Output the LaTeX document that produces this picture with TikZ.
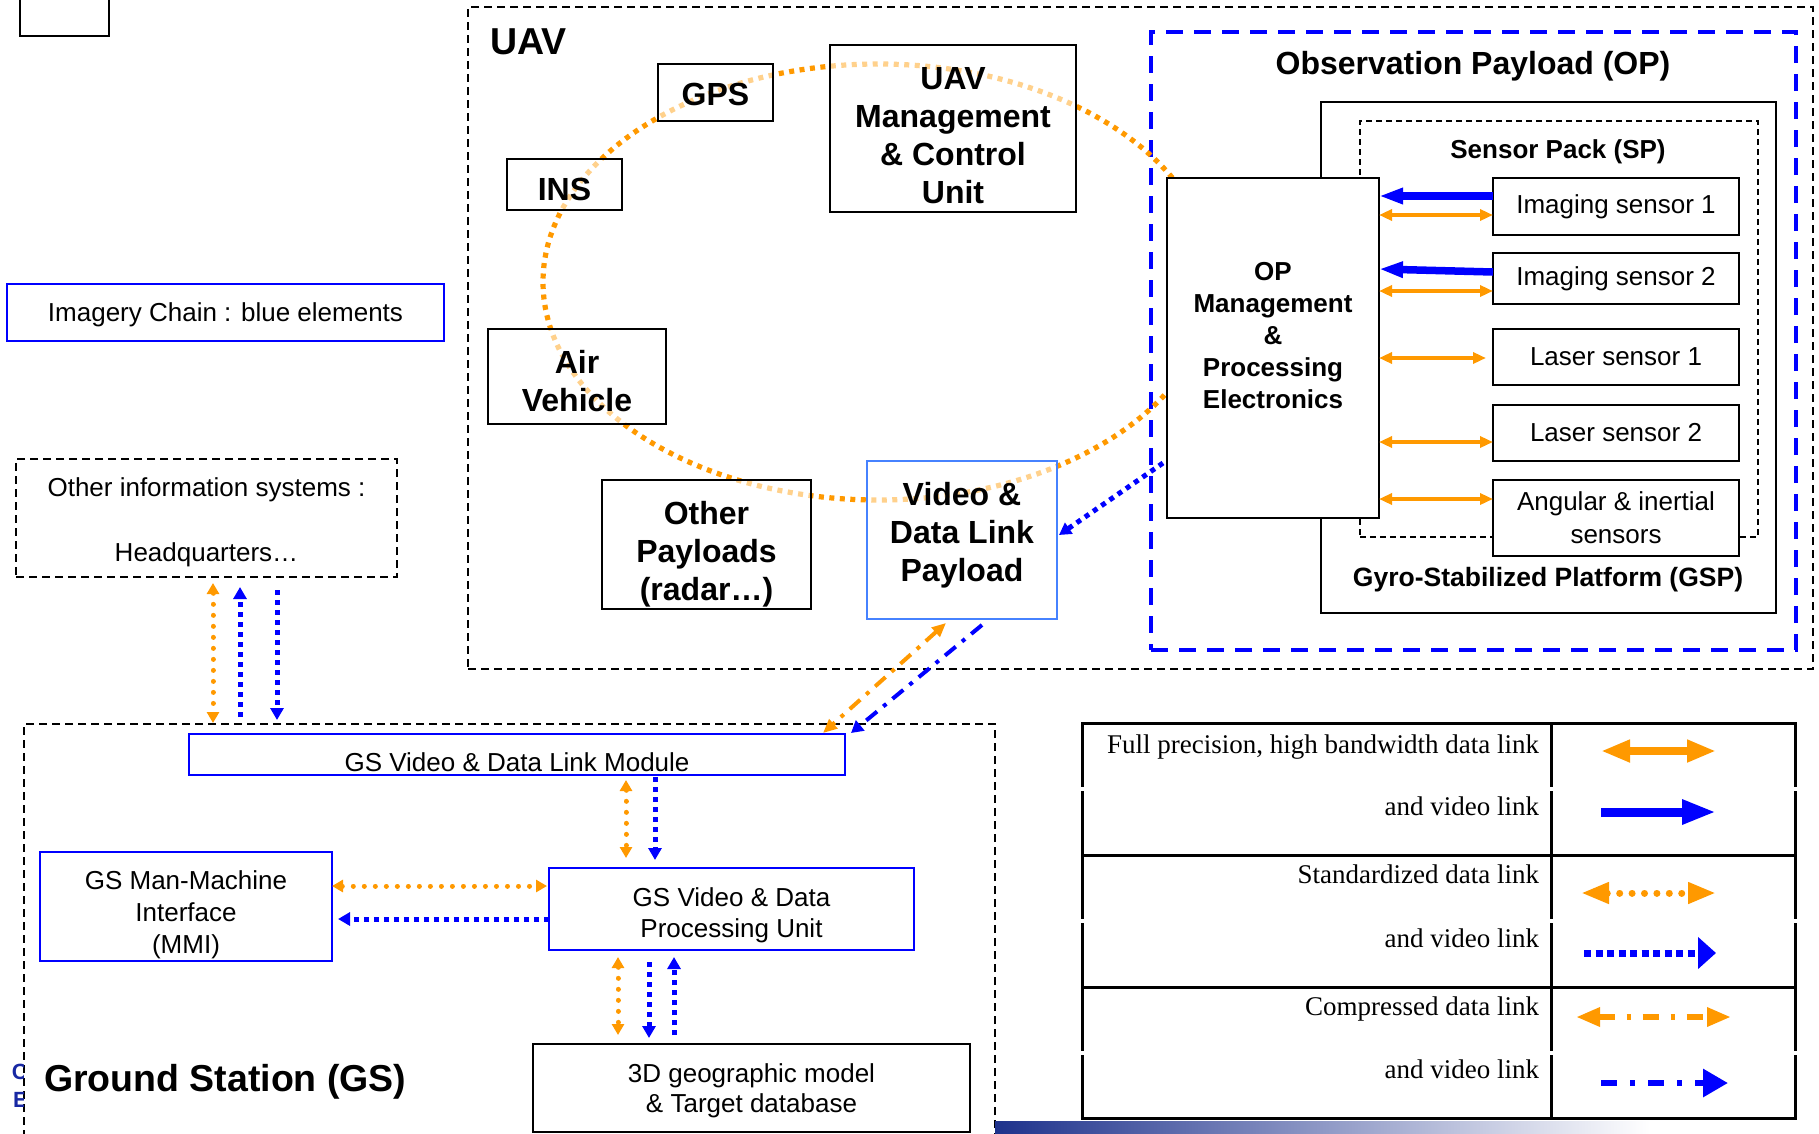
\documentclass[tikz,border=0pt]{standalone}
\usepackage{fontspec}
\setmainfont{Liberation Serif}
\setsansfont{Liberation Sans}
\usetikzlibrary{arrows.meta,calc}
\definecolor{orng}{RGB}{255,153,0}
\definecolor{vblue}{RGB}{0,0,255}
\definecolor{lblue}{RGB}{70,130,255}
\definecolor{navyc}{RGB}{30,50,140}
\begin{document}
\begin{tikzpicture}[x=1pt,y=-1pt,
  every node/.style={inner sep=0pt, outer sep=0pt, align=center},
  reg/.style={font=\sffamily\fontsize{26}{32}\selectfont},
  bld/.style={font=\sffamily\bfseries\fontsize{32}{38}\selectfont},
  bldsm/.style={font=\sffamily\bfseries\fontsize{26}{32}\selectfont},
  ttl/.style={font=\sffamily\bfseries\fontsize{37.5}{43}\selectfont},
  leg/.style={font=\rmfamily\fontsize{27}{32}\selectfont},
  sbox/.style={draw=black, line width=2.5pt, fill=white, fill opacity=0.55, text opacity=1},
  obox/.style={draw=black, line width=2.5pt, fill=white},
  bbox/.style={draw=vblue, line width=2.5pt, fill=white},
  dbox/.style={draw=black, line width=2pt, dash pattern=on 8pt off 5pt},
  ell/.style={orng, line width=5.2pt, dash pattern=on 5pt off 5.5pt},
  ofull/.style={orng, line width=4.5pt, arrows={Triangle[length=13pt,width=11pt]-Triangle[length=13pt,width=11pt]}},
  bfull/.style={vblue, line width=7.5pt, arrows={-Triangle[length=24pt,width=15pt]}},
  odot/.style={orng, line width=5pt, line cap=round, dash pattern=on 0.01pt off 11pt, arrows={Triangle[length=11pt,width=12pt]-Triangle[length=11pt,width=12pt]}},
  bdot/.style={vblue, line width=5pt, dash pattern=on 5pt off 5pt, arrows={-Triangle[length=12pt,width=13pt]}},
  odd/.style={orng, line width=4pt, dash pattern=on 14pt off 8pt on 4pt off 8pt, arrows={Triangle[length=14pt,width=12pt]-Triangle[length=14pt,width=12pt]}},
  bdd/.style={vblue, line width=4pt, dash pattern=on 14pt off 8pt on 4pt off 8pt, arrows={-Triangle[length=12pt,width=13pt]}},
  lgrid/.style={black, line width=3pt}
]
\useasboundingbox (0,0) rectangle (1819,1133);
\clip (0,0) rectangle (1819,1133);

% containers
\node[dbox, minimum width=1345pt, minimum height=662pt] (uav) at (1140.5,338) {};
\node[draw=vblue, line width=3.5pt, dash pattern=on 17pt off 11pt, minimum width=645pt, minimum height=618pt] (opc) at (1473.5,341) {};
\node[draw=black, line width=2.5pt, minimum width=455pt, minimum height=511pt] (gsp) at (1548.5,357.5) {};
\node[draw=black, line width=1.6pt, dash pattern=on 6pt off 4pt, minimum width=398pt, minimum height=416pt] (sp) at (1559,329) {};
\node[dbox, minimum width=971pt, minimum height=421pt] (gs) at (509.5,934.5) {};
\node[dbox, minimum width=381pt, minimum height=118pt] (hq) at (206.5,518) {};
\node[font=\sffamily\fontsize{26}{65}\selectfont] (hqt) at (206.5,522) {Other information systems :\\Headquarters…};

% orange ring
\draw[ell] (878,282) ellipse [x radius=335, y radius=218];

% UAV boxes
\node[obox, minimum width=89pt, minimum height=41pt] (corner) at (64.5,15.5) {};
\node[bbox, minimum width=437pt, minimum height=57pt] (imc) at (225.5,312.5) {};
\node[reg] (imct) at (225.5,315) {Imagery Chain : blue elements};
\node[sbox, minimum width=115pt, minimum height=57pt] (gps) at (715.5,92.5) {};
\node[bld] (gpst) at (715.5,94) {GPS};
\node[sbox, minimum width=115pt, minimum height=51pt] (ins) at (564.5,184.5) {};
\node[bld] (inst) at (564.5,189) {INS};
\node[sbox, minimum width=246pt, minimum height=167pt] (mcu) at (953,128.5) {};
\node[bld] (mcut) at (953,135.5) {UAV\\Management\\\& Control\\Unit};
\node[sbox, minimum width=178pt, minimum height=95pt] (av) at (577,376.5) {};
\node[bld] (avt) at (577,381) {Air\\Vehicle};
\node[sbox, minimum width=209pt, minimum height=129pt] (oth) at (706.5,544.5) {};
\node[bld] (otht) at (706.5,554) {Other\\Payloads\\(radar…)};
\node[sbox, draw=lblue, line width=2pt, minimum width=190pt, minimum height=158pt] (vdl) at (962,540) {};
\node[bld] (vdlt) at (962,535.5) {Video \&\\Data Link\\Payload};

\node[ttl, anchor=west] (uavl) at (490,41.5) {UAV};
\node[bld] (opt) at (1473,66) {Observation Payload (OP)};
\node[bldsm] (spl) at (1558,152) {Sensor Pack (SP)};
\node[font=\sffamily\bfseries\fontsize{26.5}{32}\selectfont] (gspl) at (1548,580) {Gyro-Stabilized Platform (GSP)};

% OP electronics and sensors
\node[obox, minimum width=212pt, minimum height=340pt] (opm) at (1273,348) {};
\node[bldsm] (opmt) at (1273,336) {OP\\Management\\\&\\Processing\\Electronics};
\node[obox, minimum width=246pt, minimum height=57pt, reg] (is1) at (1616,206.5) {Imaging sensor 1};
\node[obox, minimum width=246pt, minimum height=51pt, reg] (is2) at (1616,278.5) {Imaging sensor 2};
\node[obox, minimum width=246pt, minimum height=56pt, reg] (ls1) at (1616,357) {Laser sensor 1};
\node[obox, minimum width=246pt, minimum height=56pt, reg] (ls2) at (1616,433) {Laser sensor 2};
\node[obox, minimum width=246pt, minimum height=76pt, font=\sffamily\fontsize{26}{33}\selectfont] (ang) at (1616,518) {Angular \& inertial\\sensors};

\draw[bfull] (is1.west |- 0,196) -- (opm.east |- 0,196);
\draw[bfull] (is2.west |- 0,272) -- (opm.east |- 0,269);
\draw[ofull] (opm.east |- 0,215) -- (is1.west |- 0,215);
\draw[ofull] (opm.east |- 0,291) -- (is2.west |- 0,291);
\draw[ofull, shorten >=7pt] (opm.east |- 0,358) -- (ls1.west |- 0,358);
\draw[ofull] (opm.east |- 0,442) -- (ls2.west |- 0,442);
\draw[ofull] (opm.east |- 0,499) -- (ang.west |- 0,499);

\draw[bdot] ($(opm.west)+(-4,115)$) -- ($(vdl.east)+(2,-5)$);

% Ground station
\node[bbox, minimum width=656pt, minimum height=41pt] (gsm) at (517,754.5) {};
\node[reg] (gsmt) at (517,762) {GS Video \& Data Link Module};
\node[bbox, minimum width=365pt, minimum height=82pt] (proc) at (731.5,909) {};
\node[font=\sffamily\fontsize{26}{31}\selectfont] (proct) at (731.5,915) {GS Video \& Data\\Processing Unit};
\node[bbox, minimum width=292pt, minimum height=109pt] (mmi) at (186,906.5) {};
\node[reg] (mmit) at (186,915) {GS Man-Machine\\Interface\\(MMI)};
\node[obox, minimum width=437pt, minimum height=88pt] (db) at (751.5,1088) {};
\node[font=\sffamily\fontsize{26}{30}\selectfont] (dbt) at (751.5,1091) {3D geographic model\\\& Target database};
\node[ttl, anchor=west] (gsl) at (44,1082) {Ground Station (GS)};

\draw[odd] ($(vdl.south)+(-16,4)$) -- ($(gsm.north east)+(-22,-1)$);
\draw[bdd] ($(vdl.south)+(20,6)$) -- ($(gsm.north east)+(6,-1)$);

\draw[odot, shorten <=6pt, shorten >=1pt] (hq.south -| 213,0) -- (gs.north -| 213,0);
\draw[bdot, shorten <=7pt, shorten >=10pt] (gs.north -| 240,0) -- (hq.south -| 240,0);
\draw[bdot, shorten <=13pt, shorten >=4pt] (hq.south -| 277,0) -- (gs.north -| 277,0);

\draw[odot, shorten <=5pt, shorten >=10pt] (gsm.south -| 626,0) -- (proc.north -| 626,0);
\draw[bdot, shorten <=2pt, shorten >=8pt] (gsm.south -| 655,0) -- (proc.north -| 655,0);

\draw[odot, shorten >=2pt] (mmi.east |- 0,886) -- (proc.west |- 0,886);
\draw[bdot, shorten >=6pt] (proc.west |- 0,919) -- (mmi.east |- 0,919);

\draw[odot, shorten <=7pt, shorten >=9pt] (proc.south -| 618,0) -- (db.north -| 618,0);
\draw[bdot, shorten <=12pt, shorten >=6pt] (proc.south -| 649,0) -- (db.north -| 649,0);
\draw[bdot, shorten <=9pt, shorten >=7pt] (db.north -| 674,0) -- (proc.south -| 674,0);

% legend
\foreach \yy in {723,855,987,1118} \draw[lgrid, line cap=rect] (1082,\yy) -- (1795,\yy);
\foreach \xx in {1082,1551,1795} {
  \foreach \ya/\yb in {723/787,791/855,855/919,923/987,987/1051,1055/1118}
    \draw[lgrid] (\xx,\ya) -- (\xx,\yb);
}
\node[leg, anchor=base east] (lt1) at (1539,753) {Full precision, high bandwidth data link};
\node[leg, anchor=base east] (lt2) at (1539,815) {and video link};
\node[leg, anchor=base east] (lt3) at (1539,883) {Standardized data link};
\node[leg, anchor=base east] (lt4) at (1539,947) {and video link};
\node[leg, anchor=base east] (lt5) at (1539,1015) {Compressed data link};
\node[leg, anchor=base east] (lt6) at (1539,1078) {and video link};

\coordinate (a1s) at (1601,751); \coordinate (a1e) at (1716,751);
\coordinate (a2s) at (1601,812); \coordinate (a2e) at (1716,812);
\coordinate (a3s) at (1581,893); \coordinate (a3e) at (1716,893);
\coordinate (a4s) at (1584,953); \coordinate (a4e) at (1716,953);
\coordinate (a5s) at (1576,1017); \coordinate (a5e) at (1731,1017);
\coordinate (a6s) at (1601,1083); \coordinate (a6e) at (1728,1083);
\draw[orng, line width=8pt, arrows={Triangle[length=29pt,width=21pt]-Triangle[length=29pt,width=21pt]}] (a1s) -- (a1e);
\draw[vblue, line width=9pt, arrows={-Triangle[length=34pt,width=23pt]}] (a2s) -- (a2e);
\draw[orng, line width=7pt, line cap=round, dash pattern=on 0.01pt off 12.4pt, arrows={Triangle[length=28pt,width=20pt]-Triangle[length=28pt,width=20pt]}] (a3s) -- (a3e);
\draw[vblue, line width=7pt, dash pattern=on 7pt off 4.5pt, arrows={-Triangle[length=18pt,width=31pt]}] (a4s) -- (a4e);
\draw[orng, line width=6pt, dash pattern=on 16pt off 12pt on 4pt off 12pt, arrows={Triangle[length=24pt,width=18pt]-Triangle[length=24pt,width=18pt]}] (a5s) -- (a5e);
\draw[vblue, line width=6pt, dash pattern=on 16pt off 13pt on 5pt off 13pt, arrows={-Triangle[length=25pt,width=27pt]}] (a6s) -- (a6e);

% slide remnants
\shade[left color=navyc, right color=white] (995,1121) rectangle (1650,1133);
\begin{scope}
\clip (0,1055) rectangle (23,1115);
\node[font=\sffamily\bfseries\fontsize{22}{22}\selectfont, text=navyc!80!blue, anchor=west] (rc) at (12,1072) {C};
\node[font=\sffamily\bfseries\fontsize{22}{22}\selectfont, text=navyc!80!blue, anchor=west] (re) at (13,1100) {E};
\end{scope}
\end{tikzpicture}
\end{document}
